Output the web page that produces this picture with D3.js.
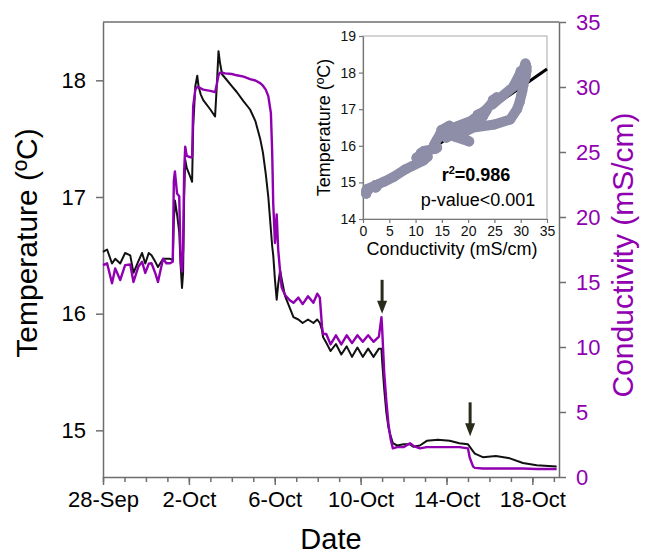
<!DOCTYPE html>
<html>
<head>
<meta charset="utf-8">
<script src="https://cdn.jsdelivr.net/npm/d3@7"></script>
<style>
  body { margin: 0; background: #fff; }
  text { font-family: "Liberation Sans", Arial, sans-serif; }
</style>
</head>
<body>
<svg id="chart"></svg>
<script>
// Data (days after 28-Sep, temperature ºC, conductivity mS/cm)
const day = [0.00, 0.19, 0.42, 0.57, 0.80, 1.03, 1.27, 1.42, 1.65, 1.82, 1.97, 2.13, 2.26, 2.45, 2.56, 2.80, 2.95, 3.12, 3.25,
  3.30, 3.35, 3.45, 3.55, 3.62, 3.68, 3.73, 3.78, 3.83, 3.90, 4.05, 4.15, 4.20, 4.30, 4.39, 4.45, 4.55, 4.67, 5.00, 5.22,
  5.30, 5.38, 5.45, 5.55, 5.69, 6.00, 6.23, 6.55, 6.85, 7.10, 7.32, 7.45, 7.58, 7.70, 7.82, 7.88, 7.93, 8.01, 8.09, 8.16,
  8.25, 8.32, 8.48, 8.70, 8.87, 9.10, 9.30, 9.55, 9.80, 9.98, 10.10, 10.20, 10.25, 10.40, 10.60, 10.85, 11.10, 11.35,
  11.60, 11.85, 12.10, 12.35, 12.60, 12.85, 12.97, 13.00, 13.10, 13.20, 13.30, 13.40, 13.50, 13.70, 14.00, 14.30, 14.45,
  14.76, 15.08, 15.60, 16.15, 16.60, 17.00, 17.08, 17.24, 17.32, 17.69, 18.30, 18.95, 19.56, 20.20, 21.13];
const temperature = [16.53, 16.55, 16.43, 16.47, 16.43, 16.52, 16.50, 16.35, 16.45, 16.52, 16.43, 16.52, 16.50, 16.44, 16.40, 16.47, 16.47, 16.47, 16.46,
  16.80, 16.97, 16.85, 16.70, 16.40, 16.22, 16.35, 17.00, 17.32, 17.25, 17.18, 17.13, 17.60, 17.95, 18.04, 17.95, 17.88, 17.83, 17.75, 17.69,
  17.95, 18.25, 18.15, 18.05, 18.02, 17.95, 17.90, 17.82, 17.75, 17.65, 17.50, 17.38, 17.20, 17.00, 16.72, 16.58, 16.50, 16.29, 16.12, 16.25,
  16.37, 16.30, 16.15, 16.05, 15.97, 15.95, 15.92, 15.95, 15.92, 15.95, 15.92, 15.86, 15.80, 15.75, 15.68, 15.74, 15.65, 15.72,
  15.63, 15.71, 15.63, 15.70, 15.63, 15.70, 15.70, 15.60, 15.35, 15.15, 15.02, 14.95, 14.89, 14.87, 14.88, 14.88, 14.86,
  14.87, 14.91, 14.92, 14.91, 14.89, 14.88, 14.86, 14.82, 14.80, 14.77, 14.78, 14.76, 14.72, 14.70, 14.69];
const conductivity = [16.30, 16.44, 14.90, 16.05, 15.15, 16.30, 16.35, 15.00, 16.20, 16.55, 15.70, 16.40, 16.44, 15.60, 15.00, 16.80, 16.44, 16.44, 16.56,
  22.80, 23.50, 21.80, 21.60, 16.50, 15.80, 17.50, 23.50, 25.40, 24.70, 24.60, 24.60, 28.50, 29.80, 30.00, 30.00, 29.90, 29.80, 29.70, 29.60,
  30.20, 30.90, 31.10, 31.10, 31.05, 31.00, 30.90, 30.80, 30.60, 30.50, 30.30, 30.10, 29.80, 29.30, 28.00, 25.00, 21.00, 18.00, 20.20, 17.50,
  15.80, 14.60, 14.00, 13.60, 13.40, 13.80, 13.30, 13.90, 13.40, 14.10, 13.80, 11.60, 11.00, 11.00, 10.20, 10.90, 10.20, 10.90,
  10.30, 10.90, 10.40, 10.90, 10.40, 10.80, 12.30, 11.50, 8.00, 5.80, 4.00, 2.90, 2.20, 2.30, 2.30, 2.60, 2.40,
  2.20, 2.30, 2.30, 2.30, 2.30, 2.20, 1.50, 0.80, 0.70, 0.65, 0.65, 0.65, 0.65, 0.62, 0.62];

// arrows: day, top and tip in ºC
const arrowDays = [13.0, 17.1];
const arrowTop = [16.29, 15.24];
const arrowTip = [16.0, 14.95];

const tempTicks = [15, 16, 17, 18];
const condTicks = [0, 5, 10, 15, 20, 25, 30, 35];
const insetTempTicks = [14, 15, 16, 17, 18, 19];
const insetCondTicks = [0, 5, 10, 15, 20, 25, 30, 35];
const fitLine = [[0, 14.6], [35, 18.1]];
const statLines = ["0.986", "p-value<0.001"];

const width = 647, height = 557;
const margin = { top: 22, right: 88, bottom: 80, left: 103 };
const purple = "#9000b0", axisGray = "#6e6e6e";

const start = new Date(2009, 8, 28);
const toDate = d => new Date(start.getTime() + d * 864e5);

const svg = d3.select("#chart").attr("width", width).attr("height", height);

const x = d3.scaleTime()
  .domain([start, toDate(21.24)])
  .range([margin.left, width - margin.right]);
const yT = d3.scaleLinear().domain([14.6, 18.5]).range([height - margin.bottom, margin.top]);
const yC = d3.scaleLinear().domain([0, 35]).range([height - margin.bottom, margin.top]);

const rows = day.map((d, i) => ({ d: d, t: temperature[i], c: conductivity[i] }));

function styleAxis(g) {
  g.selectAll("path, line").attr("stroke", axisGray).attr("stroke-width", 1.5);
  g.selectAll("text").style("font-size", "22px").attr("fill", "#000");
}

// frame top
svg.append("line")
  .attr("x1", margin.left).attr("x2", width - margin.right)
  .attr("y1", margin.top).attr("y2", margin.top)
  .attr("stroke", axisGray).attr("stroke-width", 1.5);

// x axis: daily minor ticks, labelled every 4 days
svg.append("g")
  .attr("transform", `translate(0,${height - margin.bottom})`)
  .call(d3.axisBottom(x).ticks(d3.timeDay.every(1)).tickSize(5).tickSizeOuter(0).tickFormat(""))
  .call(styleAxis);
svg.append("g")
  .attr("transform", `translate(0,${height - margin.bottom})`)
  .call(d3.axisBottom(x).tickValues([0, 4, 8, 12, 16, 20].map(toDate)).tickSize(8).tickSizeOuter(0)
    .tickPadding(6).tickFormat(d3.timeFormat("%-d-%b")))
  .call(styleAxis)
  .call(g => g.select(".domain").remove());

svg.append("g")
  .attr("transform", `translate(${margin.left},0)`)
  .call(d3.axisLeft(yT).tickValues(tempTicks).tickSize(7).tickSizeOuter(0).tickPadding(10).tickFormat(d3.format("d")))
  .call(styleAxis);

svg.append("g")
  .attr("transform", `translate(${width - margin.right},0)`)
  .call(d3.axisRight(yC).tickValues(condTicks).tickSize(7).tickSizeOuter(0).tickPadding(10))
  .call(styleAxis)
  .call(g => g.selectAll("text").attr("fill", purple));

// axis titles
svg.append("text")
  .attr("x", (margin.left + width - margin.right) / 2).attr("y", 549)
  .attr("text-anchor", "middle").style("font-size", "29px")
  .text("Date");
svg.append("text")
  .attr("transform", "rotate(-90)")
  .attr("x", -243).attr("y", 37)
  .attr("text-anchor", "middle").style("font-size", "30px")
  .text("Temperature (ºC)");
svg.append("text")
  .attr("transform", "rotate(-90)")
  .attr("x", -255).attr("y", 633)
  .attr("text-anchor", "middle").style("font-size", "30px").attr("fill", purple)
  .text("Conductivity (mS/cm)");

// series
const lineT = d3.line().x(d => x(toDate(d.d))).y(d => yT(d.t));
const lineC = d3.line().x(d => x(toDate(d.d))).y(d => yC(d.c));

svg.append("path").datum(rows)
  .attr("fill", "none").attr("stroke", "#111").attr("stroke-width", 2)
  .attr("stroke-linejoin", "round").attr("d", lineT);
svg.append("path").datum(rows)
  .attr("fill", "none").attr("stroke", purple).attr("stroke-width", 2.4)
  .attr("stroke-linejoin", "round").attr("d", lineC);

// arrows
arrowDays.forEach((a, i) => {
  const ax = x(toDate(a)), y0 = yT(arrowTop[i]), y1 = yT(arrowTip[i]);
  svg.append("line")
    .attr("x1", ax).attr("x2", ax).attr("y1", y0).attr("y2", y1 - 10)
    .attr("stroke", "#2b2b1c").attr("stroke-width", 3);
  svg.append("path")
    .attr("d", `M${ax - 5},${y1 - 13}L${ax + 5},${y1 - 13}L${ax},${y1}Z`)
    .attr("fill", "#2b2b1c");
});

// inset scatter
const xIn = d3.scaleLinear().domain([0, 35]).range([363, 547]);
const yIn = d3.scaleLinear().domain([14, 19]).range([219, 36]);
const inset = svg.append("g");

inset.append("rect")
  .attr("x", xIn(0)).attr("y", yIn(19))
  .attr("width", xIn(35) - xIn(0)).attr("height", yIn(14) - yIn(19))
  .attr("fill", "#fff").attr("stroke", "#a8a8a8").attr("stroke-width", 1);

function styleInset(g) {
  g.selectAll("path, line").attr("stroke", "#777").attr("stroke-width", 1.2);
  g.selectAll("text").style("font-size", "14px").attr("fill", "#111");
}
inset.append("g")
  .attr("transform", `translate(0,${yIn(14)})`)
  .call(d3.axisBottom(xIn).tickValues(insetCondTicks).tickSize(4).tickSizeOuter(0).tickPadding(3))
  .call(styleInset);
inset.append("g")
  .attr("transform", `translate(${xIn(0)},0)`)
  .call(d3.axisLeft(yIn).tickValues(insetTempTicks).tickSize(4).tickSizeOuter(0).tickPadding(3).tickFormat(d3.format("d")))
  .call(styleInset);

inset.append("path").datum(fitLine)
  .attr("fill", "none").attr("stroke", "#000").attr("stroke-width", 3)
  .attr("d", d3.line().x(d => xIn(d[0])).y(d => yIn(d[1])));

const scatterGray = "#8e8ea8";
inset.append("path").datum(rows)
  .attr("fill", "none").attr("stroke", scatterGray).attr("stroke-width", 10)
  .attr("stroke-linejoin", "round").attr("stroke-linecap", "round")
  .attr("d", d3.line().x(d => xIn(d.c)).y(d => yIn(d.t)));
inset.selectAll("circle").data(rows).enter().append("circle")
  .attr("cx", d => xIn(d.c)).attr("cy", d => yIn(d.t))
  .attr("r", 5).attr("fill", scatterGray);

const r2 = inset.append("text")
  .attr("x", 476).attr("y", 181).attr("text-anchor", "middle")
  .style("font-size", "18px").style("font-weight", "bold");
r2.append("tspan").text("r");
r2.append("tspan").attr("dy", -7).style("font-size", "11px").text("2");
r2.append("tspan").attr("dy", 7).text("=" + statLines[0]);
inset.append("text")
  .attr("x", 478).attr("y", 206).attr("text-anchor", "middle")
  .style("font-size", "18px")
  .text(statLines[1]);

inset.append("text")
  .attr("x", 452).attr("y", 255).attr("text-anchor", "middle")
  .style("font-size", "18px")
  .text("Conductivity (mS/cm)");
inset.append("text")
  .attr("transform", "rotate(-90)")
  .attr("x", -(yIn(14) + yIn(19)) / 2).attr("y", 330)
  .attr("text-anchor", "middle").style("font-size", "18px")
  .text("Temperature (ºC)");
</script>
</body>
</html>
